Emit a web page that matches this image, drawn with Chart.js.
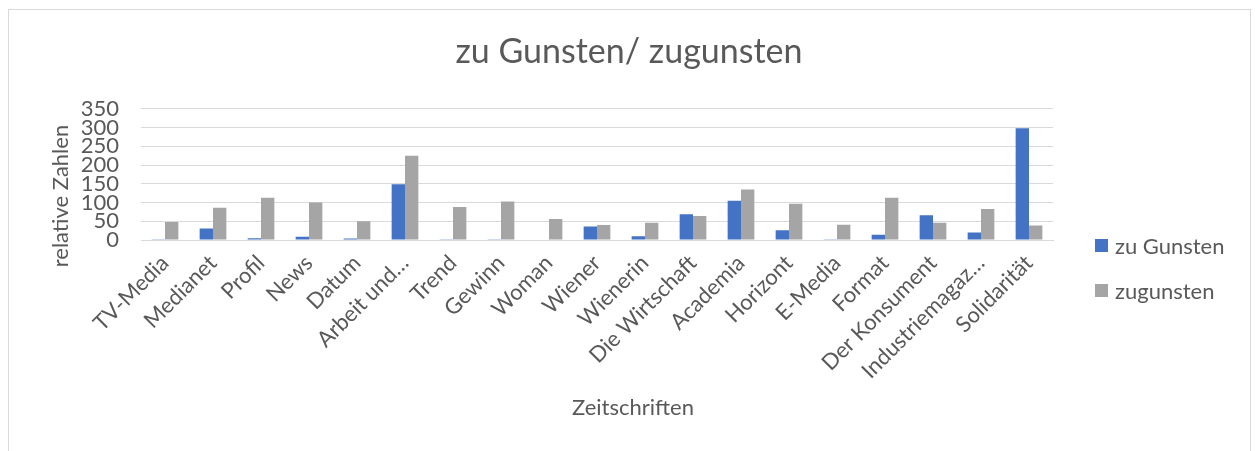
<!DOCTYPE html>
<html>
<head>
<meta charset="utf-8">
<script src="https://cdn.jsdelivr.net/npm/chart.js@4/dist/chart.umd.min.js"></script>
<style>
    body { margin: 0; background: #fff; width: 1255px; height: 451px; overflow: hidden; position: relative; }
    #frame { position: absolute; left: 8px; top: 9px; width: 1241px; height: 500px; border: 1px solid #d9d9d9; }
    #chart { position: absolute; left: 0; top: 0; }
    #legend { position: absolute; left: 1095px; top: 223px; font-family: Lato, sans-serif; font-size: 22px; color: #595959; }
    .item { height: 45px; display: flex; align-items: center; }
    .box { width: 13px; height: 13px; margin-right: 7px; }
</style>
</head>
<body>
<div id="frame"></div>
<canvas id="chart" width="1255" height="451"></canvas>
<div id="legend"></div>
<script>
const categories = ['TV-Media', 'Medianet', 'Profil', 'News', 'Datum', 'Arbeit und…', 'Trend', 'Gewinn', 'Woman', 'Wiener',
    'Wienerin', 'Die Wirtschaft', 'Academia', 'Horizont', 'E-Media', 'Format', 'Der Konsument', 'Industriemagaz…', 'Solidarität'];
const zuGunsten = [2, 31, 5, 9, 4, 149, 2, 2, 0, 36, 10, 69, 105, 26, 1, 14, 66, 20, 298];
const zugunsten = [48, 86, 113, 100, 50, 225, 88, 103, 56, 40, 46, 64, 135, 97, 41, 113, 46, 83, 39];
const yTicks = [0, 50, 100, 150, 200, 250, 300, 350];
const xTitle = 'Zeitschriften';
const yTitle = 'relative Zahlen';

const textColor = '#595959';
const gridColor = '#d9d9d9';
const fontFamily = 'Lato, sans-serif';

const datasets = [
    { label: 'zu Gunsten', data: zuGunsten, backgroundColor: '#4472c4' },
    { label: 'zugunsten', data: zugunsten, backgroundColor: '#a5a5a5' }
];

// Excel puts the axis titles a bit off the plot centre, so draw them by hand
const axisTitles = {
    id: 'axisTitles',
    afterDraw(chart) {
        const c = chart.ctx;
        const area = chart.chartArea;
        c.save();
        c.fillStyle = textColor;
        c.font = '22px ' + fontFamily;
        c.textAlign = 'center';
        c.textBaseline = 'middle';
        c.fillText(xTitle, (area.left + area.right) / 2 + 36, 408);
        c.translate(61, area.bottom - 44);
        c.rotate(-Math.PI / 2);
        c.fillText(yTitle, 0, 0);
        c.restore();
    }
};

const ctx = document.getElementById('chart').getContext('2d');
const chart = new Chart(ctx, {
    type: 'bar',
    data: {
        labels: categories,
        datasets: datasets.map(d => ({
            label: d.label,
            data: d.data,
            backgroundColor: d.backgroundColor,
            borderWidth: 0,
            categoryPercentage: 0.556,
            barPercentage: 1.0
        }))
    },
    plugins: [axisTitles],
    options: {
        responsive: false,
        animation: false,
        devicePixelRatio: 1,
        layout: { padding: { left: 24, right: 21, top: 0, bottom: 65 } },
        plugins: {
            legend: { display: false },
            tooltip: { enabled: false },
            title: {
                display: true,
                text: 'zu Gunsten/ zugunsten',
                color: textColor,
                font: { family: fontFamily, size: 34, weight: 'normal' },
                padding: { top: 32, bottom: 36 }
            }
        },
        scales: {
            x: {
                grid: { display: false },
                border: { display: true, color: gridColor, width: 1 },
                ticks: {
                    color: textColor,
                    font: { family: fontFamily, size: 22 },
                    minRotation: 45,
                    maxRotation: 45,
                    autoSkip: false,
                    padding: 2
                }
            },
            y: {
                min: yTicks[0],
                max: yTicks[yTicks.length - 1],
                afterBuildTicks: axis => { axis.ticks = yTicks.map(v => ({ value: v })); },
                afterFit: axis => { axis.width = 117; },
                grid: { color: gridColor, lineWidth: 1, drawTicks: false },
                border: { display: false },
                ticks: {
                    color: textColor,
                    font: { family: fontFamily, size: 22 },
                    padding: 22,
                    autoSkip: false
                }
            },
            // empty space on the right where the legend sits
            legendSpace: {
                type: 'linear',
                position: 'right',
                grid: { display: false },
                border: { display: false },
                ticks: { display: false },
                afterFit: axis => { axis.width = 181; }
            }
        }
    }
});

// legend on the right, like the Excel original
const legendEl = document.getElementById('legend');
datasets.forEach(d => {
    const item = document.createElement('div');
    item.className = 'item';
    item.innerHTML = '<span class="box" style="background:' + d.backgroundColor + '"></span><span>' + d.label + '</span>';
    legendEl.appendChild(item);
});
</script>
</body>
</html>
